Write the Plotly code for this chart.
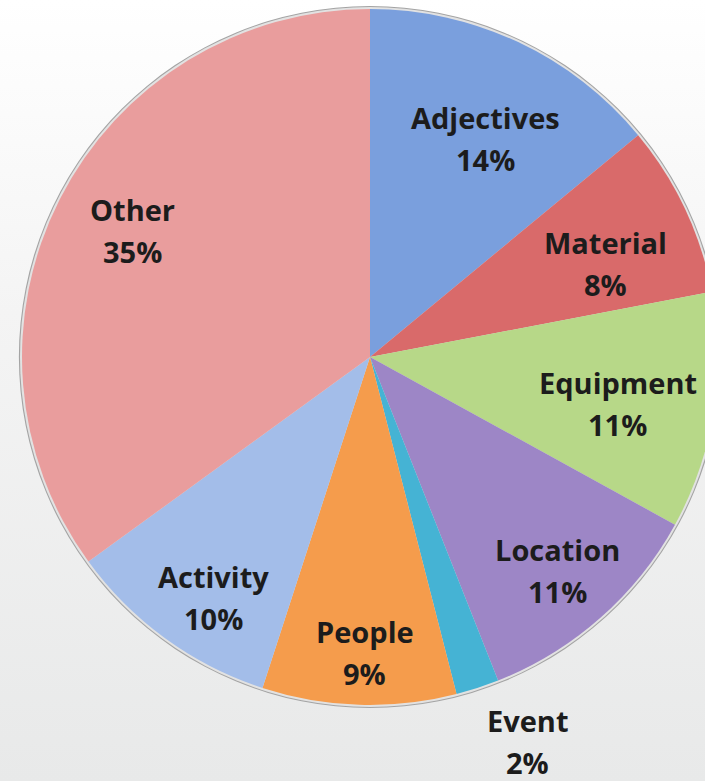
import math
import plotly.graph_objects as go

# Share of items per category (percent), clockwise from 12 o'clock
categories = ["Adjectives", "Material", "Equipment", "Location", "Event", "People", "Activity", "Other"]
shares = [14, 8, 11, 11, 2, 9, 10, 35]

# Slice colours
slice_colors = ["#7a9fdd", "#d96a6a", "#b7d888", "#9d86c6", "#45b3d4", "#f59c4c", "#a3bde9", "#e99d9d"]
# Label placement: distance from the centre (fraction of radius) and a turn off the bisector (degrees)
label_radius = [0.71, 0.727, 0.724, 0.816, 1.195, 0.848, 0.825, 0.773]
label_turn = [2.8, 3.6, 1.7, 0.0, -4.3, -0.8, -3.0, 1.0]

W, H = 740, 781
cx, cy, r = 370, 357, 348  # pie centre and radius in pixels
line_gap = 21  # half the distance between the two label lines


def pie_domain(radius):
    return dict(
        x=[(cx - radius) / W, (cx + radius) / W],
        y=[(H - cy - radius) / H, (H - cy + radius) / H],
    )


fig = go.Figure()

# page background: white fading to light grey towards the bottom
fig.add_trace(go.Scatter(
    x=[0, 1, 1, 0, 0], y=[0, 0, 1, 1, 0], mode="lines", line=dict(width=0),
    fill="toself",
    fillgradient=dict(type="vertical", colorscale=[[0, "#e8e9e9"], [0.6, "#f4f4f4"], [1, "#ffffff"]]),
    hoverinfo="skip", showlegend=False,
))

# thin grey rim and soft halo around the pie
fig.add_trace(go.Pie(values=[1], marker=dict(colors=["#a4a4a4"], line=dict(width=0)),
                     textinfo="none", hoverinfo="skip", sort=False, showlegend=False,
                     domain=pie_domain(r + 3)))
fig.add_trace(go.Pie(values=[1], marker=dict(colors=["#e2e2e2"], line=dict(width=0)),
                     textinfo="none", hoverinfo="skip", sort=False, showlegend=False,
                     domain=pie_domain(r + 2)))

fig.add_trace(go.Pie(
    labels=categories, values=shares, sort=False, direction="clockwise", rotation=0,
    marker=dict(colors=slice_colors, line=dict(width=0)),
    textinfo="none", showlegend=False, domain=pie_domain(r),
))

label_font = dict(family="Open Sans", size=29, color="#1c1c1c", weight="bold")

# category labels placed near each slice's bisector
total = sum(shares)
cum = 0
for name, val, frac, turn in zip(categories, shares, label_radius, label_turn):
    mid = (cum + val / 2) / total * 2 * math.pi + math.radians(turn)
    cum += val
    px = cx + frac * r * math.sin(mid)
    py = cy - frac * r * math.cos(mid)
    for line, shift in ((name, line_gap), (f"{round(val / total * 100)}%", -line_gap)):
        fig.add_annotation(
            x=px / W, y=1 - py / H, xref="paper", yref="paper", yshift=shift,
            text=line, showarrow=False, xanchor="center", yanchor="middle",
            font=label_font,
        )

fig.update_layout(
    width=W, height=H,
    margin=dict(l=0, r=0, t=0, b=0),
    paper_bgcolor="#ffffff", plot_bgcolor="rgba(0,0,0,0)",
    xaxis=dict(visible=False, range=[0, 1], fixedrange=True),
    yaxis=dict(visible=False, range=[0, 1], fixedrange=True),
)

fig.write_html("out.html", config={"displayModeBar": False, "staticPlot": True},
               post_script="document.documentElement.style.overflow='hidden';document.body.style.overflow='hidden';")
